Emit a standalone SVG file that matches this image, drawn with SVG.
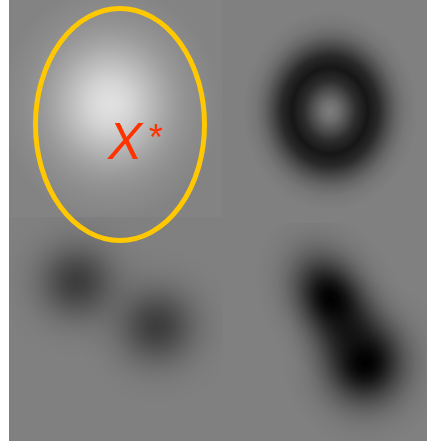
<svg xmlns="http://www.w3.org/2000/svg" width="427" height="441" viewBox="0 0 427 441">
<defs>
<radialGradient id="bright" cx="0.5" cy="0.5" r="0.5">
<stop offset="0" stop-color="#fff" stop-opacity="0.75"/>
<stop offset="0.1" stop-color="#fff" stop-opacity="0.72"/>
<stop offset="0.2" stop-color="#fff" stop-opacity="0.645"/>
<stop offset="0.3" stop-color="#fff" stop-opacity="0.53"/>
<stop offset="0.4" stop-color="#fff" stop-opacity="0.41"/>
<stop offset="0.5" stop-color="#fff" stop-opacity="0.29"/>
<stop offset="0.6" stop-color="#fff" stop-opacity="0.19"/>
<stop offset="0.7" stop-color="#fff" stop-opacity="0.118"/>
<stop offset="0.8" stop-color="#fff" stop-opacity="0.067"/>
<stop offset="0.9" stop-color="#fff" stop-opacity="0.035"/>
<stop offset="1" stop-color="#fff" stop-opacity="0"/>
</radialGradient>
<radialGradient id="ring" cx="0.5" cy="0.5" r="0.5">
<stop offset="0" stop-color="#000" stop-opacity="0.02"/>
<stop offset="0.1" stop-color="#000" stop-opacity="0.15"/>
<stop offset="0.2" stop-color="#000" stop-opacity="0.39"/>
<stop offset="0.3" stop-color="#000" stop-opacity="0.65"/>
<stop offset="0.43" stop-color="#000" stop-opacity="0.83"/>
<stop offset="0.55" stop-color="#000" stop-opacity="0.68"/>
<stop offset="0.65" stop-color="#000" stop-opacity="0.42"/>
<stop offset="0.75" stop-color="#000" stop-opacity="0.2"/>
<stop offset="0.85" stop-color="#000" stop-opacity="0.07"/>
<stop offset="0.95" stop-color="#000" stop-opacity="0.02"/>
<stop offset="1" stop-color="#000" stop-opacity="0"/>
</radialGradient>
<radialGradient id="dim" cx="0.5" cy="0.5" r="0.5">
<stop offset="0" stop-color="#000" stop-opacity="0.52"/>
<stop offset="0.1" stop-color="#000" stop-opacity="0.494"/>
<stop offset="0.2" stop-color="#000" stop-opacity="0.424"/>
<stop offset="0.3" stop-color="#000" stop-opacity="0.33"/>
<stop offset="0.4" stop-color="#000" stop-opacity="0.231"/>
<stop offset="0.5" stop-color="#000" stop-opacity="0.147"/>
<stop offset="0.6" stop-color="#000" stop-opacity="0.084"/>
<stop offset="0.7" stop-color="#000" stop-opacity="0.043"/>
<stop offset="0.8" stop-color="#000" stop-opacity="0.02"/>
<stop offset="0.9" stop-color="#000" stop-opacity="0.008"/>
<stop offset="1" stop-color="#000" stop-opacity="0"/>
</radialGradient>
<radialGradient id="dark" cx="0.5" cy="0.5" r="0.5">
<stop offset="0" stop-color="#000" stop-opacity="1"/>
<stop offset="0.1" stop-color="#000" stop-opacity="0.95"/>
<stop offset="0.2" stop-color="#000" stop-opacity="0.82"/>
<stop offset="0.3" stop-color="#000" stop-opacity="0.634"/>
<stop offset="0.4" stop-color="#000" stop-opacity="0.444"/>
<stop offset="0.5" stop-color="#000" stop-opacity="0.282"/>
<stop offset="0.6" stop-color="#000" stop-opacity="0.161"/>
<stop offset="0.7" stop-color="#000" stop-opacity="0.083"/>
<stop offset="0.8" stop-color="#000" stop-opacity="0.039"/>
<stop offset="0.9" stop-color="#000" stop-opacity="0.017"/>
<stop offset="1" stop-color="#000" stop-opacity="0"/>
</radialGradient>
<clipPath id="cTL"><rect x="9" y="0" width="213" height="217"/></clipPath>
<clipPath id="cTR"><rect x="222" y="0" width="205" height="223"/></clipPath>
<clipPath id="cBL"><rect x="9" y="217" width="214" height="224"/></clipPath>
<clipPath id="cBR"><rect x="223" y="223" width="204" height="218"/></clipPath>
</defs>
<style>
.lbl{font-family:"Liberation Sans",Arial,sans-serif;fill:#ff3300}
</style>
<rect x="0" y="0" width="427" height="441" fill="#ffffff"/>
<rect x="9" y="0" width="418" height="441" fill="#808080"/>
<g id="panel-tl" clip-path="url(#cTL)">
<rect x="9" y="0" width="213" height="217" fill="#838383"/>
<ellipse cx="110" cy="104" rx="110" ry="118" fill="url(#bright)"/>
</g>
<g id="panel-tr" clip-path="url(#cTR)">
<ellipse cx="330" cy="111" rx="88" ry="100" fill="url(#ring)"/>
</g>
<g id="panel-bl" clip-path="url(#cBL)">
<ellipse cx="77" cy="282" rx="82" ry="80" fill="url(#dim)"/>
<ellipse cx="157" cy="326" rx="84" ry="82" fill="url(#dim)"/>
</g>
<g id="panel-br" clip-path="url(#cBR)">
<ellipse cx="331" cy="299" rx="70" ry="96" transform="rotate(-30 331 299)" fill="url(#dark)"/>
<ellipse cx="348" cy="332" rx="56" ry="68" transform="rotate(-30 348 332)" fill="url(#dark)" opacity="0.5"/>
<ellipse cx="365" cy="363" rx="84" ry="88" fill="url(#dark)"/>
</g>
<g id="selection">
<ellipse cx="120" cy="124.5" rx="84.5" ry="116" fill="none" stroke="#ffc800" stroke-width="5"/>
</g>
<g id="label">
<text class="lbl" x="108" y="159" font-size="51" font-style="italic">X</text>
<text class="lbl" x="149" y="150" font-size="36">*</text>
</g>
</svg>
